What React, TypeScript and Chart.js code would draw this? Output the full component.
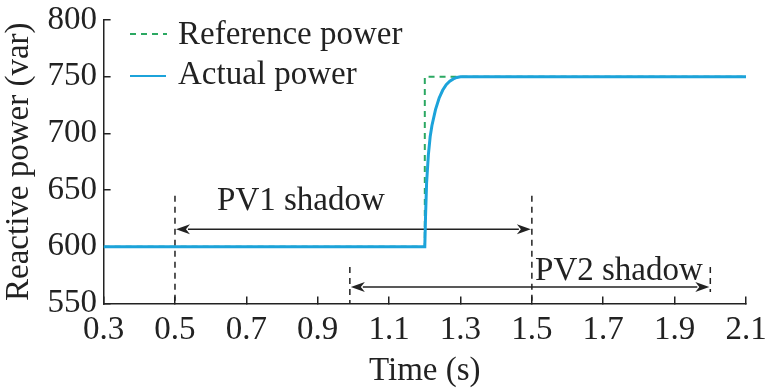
import React, { useEffect, useRef } from 'react';
import { Chart, registerables } from 'chart.js';

Chart.register(...registerables);

// ---- data ----
const xTicks = [0.3, 0.5, 0.7, 0.9, 1.1, 1.3, 1.5, 1.7, 1.9, 2.1];
const yTicks = [550, 600, 650, 700, 750, 800];

const refTime = [0.3, 1.2, 1.2, 2.1];
const refPower = [600, 600, 750, 750];

const actualTime = [0.3, 1.2, 1.202, 1.205, 1.21, 1.215, 1.22, 1.23, 1.24, 1.25, 1.26, 1.27, 1.28, 1.29, 1.3, 2.1];
const actualPower = [600, 600, 626, 656, 681, 697, 707, 721, 731, 738, 743, 746, 748, 749.3, 750, 750];

const legendLabels = ['Reference power', 'Actual power'];

// shadow intervals (time), arrow level, dashed marker extent (var)
const pv1Label = 'PV1 shadow';
const pv1Span = [0.5, 1.5];
const pv1ArrowY = 615.5;
const pv1MarkTop = 645;
const pv1LabelAt = [0.853, 632];

const pv2Label = 'PV2 shadow';
const pv2Span = [0.99, 2.0];
const pv2ArrowY = 564.5;
const pv2MarkTop = 582;
const pv2EndMarkBottom = 560;
const pv2LabelAt = [1.744, 571];

const FONT = '"Liberation Serif", "Times New Roman", serif';

const App: React.FC = () => {
  const ref = useRef<HTMLCanvasElement | null>(null);

  useEffect(() => {
    document.body.style.margin = '0';
    const canvas = ref.current!;

    const annotations = {
      id: 'annotations',
      beforeDatasetsDraw(chart: any) {
        const ctx = chart.ctx;
        const xs = chart.scales.x;
        const ys = chart.scales.y;
        const px = (v: number) => xs.getPixelForValue(v);
        const py = (v: number) => ys.getPixelForValue(v);
        ctx.save();
        ctx.strokeStyle = '#222';
        ctx.fillStyle = '#222';
        ctx.lineWidth = 1.5;
        // dashed markers
        ctx.setLineDash([6, 5]);
        const vline = (x: number, y1: number, y2: number) => {
          ctx.beginPath();
          ctx.moveTo(px(x), py(y1));
          ctx.lineTo(px(x), py(y2));
          ctx.stroke();
        };
        vline(pv1Span[0], pv1MarkTop, 550);
        vline(pv1Span[1], pv1MarkTop, 550);
        vline(pv2Span[0], pv2MarkTop, 550);
        vline(pv2Span[1], pv2MarkTop, pv2EndMarkBottom);
        ctx.setLineDash([]);
        // arrows
        const arrow = (x1: number, x2: number, y: number) => {
          const a = px(x1) + 1, b = px(x2) - 1, yy = py(y);
          const L = 14, W = 5;
          ctx.beginPath();
          ctx.moveTo(a + L - 2, yy);
          ctx.lineTo(b - L + 2, yy);
          ctx.stroke();
          ctx.beginPath();
          ctx.moveTo(a, yy);
          ctx.lineTo(a + L, yy - W);
          ctx.lineTo(a + L - 4, yy);
          ctx.lineTo(a + L, yy + W);
          ctx.closePath();
          ctx.fill();
          ctx.beginPath();
          ctx.moveTo(b, yy);
          ctx.lineTo(b - L, yy - W);
          ctx.lineTo(b - L + 4, yy);
          ctx.lineTo(b - L, yy + W);
          ctx.closePath();
          ctx.fill();
        };
        arrow(pv1Span[0], pv1Span[1], pv1ArrowY);
        arrow(pv2Span[0], pv2Span[1], pv2ArrowY);
        ctx.restore();
      },
      afterDraw(chart: any) {
        const ctx = chart.ctx;
        const xs = chart.scales.x;
        const ys = chart.scales.y;
        ctx.save();
        ctx.font = `33px ${FONT}`;
        ctx.fillStyle = '#222';
        ctx.textAlign = 'center';
        ctx.textBaseline = 'alphabetic';
        ctx.fillText(pv1Label, xs.getPixelForValue(pv1LabelAt[0]), ys.getPixelForValue(pv1LabelAt[1]));
        ctx.fillText(pv2Label, xs.getPixelForValue(pv2LabelAt[0]), ys.getPixelForValue(pv2LabelAt[1]));
        // legend
        ctx.textAlign = 'left';
        ctx.fillText(legendLabels[0], 178, 44);
        ctx.fillText(legendLabels[1], 178, 84);
        ctx.lineWidth = 2;
        ctx.strokeStyle = '#2ba862';
        ctx.setLineDash([6, 5]);
        ctx.beginPath();
        ctx.moveTo(130, 34);
        ctx.lineTo(167, 34);
        ctx.stroke();
        ctx.setLineDash([]);
        ctx.strokeStyle = '#1ca3da';
        ctx.beginPath();
        ctx.moveTo(130, 76);
        ctx.lineTo(166, 76);
        ctx.stroke();
        ctx.restore();
      },
    };

    const chart = new Chart(canvas, {
      type: 'line',
      data: {
        datasets: [
          {
            label: legendLabels[1],
            data: actualTime.map((t, i) => ({ x: t, y: actualPower[i] })),
            borderColor: '#1ca3da',
            borderWidth: 3,
            pointRadius: 0,
            tension: 0,
            order: 0,
          },
          {
            label: legendLabels[0],
            data: refTime.map((t, i) => ({ x: t, y: refPower[i] })),
            borderColor: '#2ba862',
            borderWidth: 2,
            borderDash: [6, 5],
            pointRadius: 0,
            tension: 0,
            order: 1,
          },
        ],
      },
      options: {
        animation: false,
        responsive: false,
        maintainAspectRatio: false,
        layout: { padding: { top: 20, right: 19, left: 0, bottom: 0 } },
        plugins: { legend: { display: false }, tooltip: { enabled: false } },
        font: { family: FONT },
        scales: {
          x: {
            type: 'linear',
            min: 0.3,
            max: 2.1,
            afterBuildTicks: (s: any) => {
              s.ticks = xTicks.map((v) => ({ value: v }));
            },
            afterFit: (s: any) => {
              s.height = 87.6;
              s.paddingLeft = 0;
              s.paddingRight = 0;
            },
            ticks: {
              callback: (v: any) => Number(v).toFixed(1),
              color: '#222',
              font: { family: FONT, size: 33 },
              padding: 14,
              maxRotation: 0,
              autoSkip: false,
            },
            grid: { drawOnChartArea: false, drawTicks: true, tickLength: -7, color: '#222', lineWidth: 1.5 },
            border: { display: true, color: '#222', width: 1.5 },
            title: {
              display: true,
              text: 'Time (s)',
              color: '#222',
              font: { family: FONT, size: 33, lineHeight: 1.2 },
              padding: { top: 0, bottom: 0 },
            },
          },
          y: {
            type: 'linear',
            min: 550,
            max: 800,
            afterBuildTicks: (s: any) => {
              s.ticks = yTicks.map((v) => ({ value: v }));
            },
            afterFit: (s: any) => {
              s.width = 103.6;
              s.paddingTop = 0;
              s.paddingBottom = 0;
            },
            ticks: {
              color: '#222',
              font: { family: FONT, size: 33 },
              padding: 13.5,
              autoSkip: false,
            },
            grid: { drawOnChartArea: false, drawTicks: true, tickLength: -7, color: '#222', lineWidth: 1.5 },
            border: { display: true, color: '#222', width: 1.5 },
            title: {
              display: true,
              text: 'Reactive power (var)',
              color: '#222',
              font: { family: FONT, size: 33, lineHeight: 1.2 },
              padding: { top: 0, bottom: 0 },
            },
          },
        },
      } as any,
      plugins: [annotations],
    });

    return () => chart.destroy();
  }, []);

  return (
    <div style={{ position: 'fixed', left: 0, top: 0, width: 765, height: 391, background: '#fff' }}>
      <canvas ref={ref} width={765} height={391} style={{ width: 765, height: 391 }} />
    </div>
  );
};

export default App;
